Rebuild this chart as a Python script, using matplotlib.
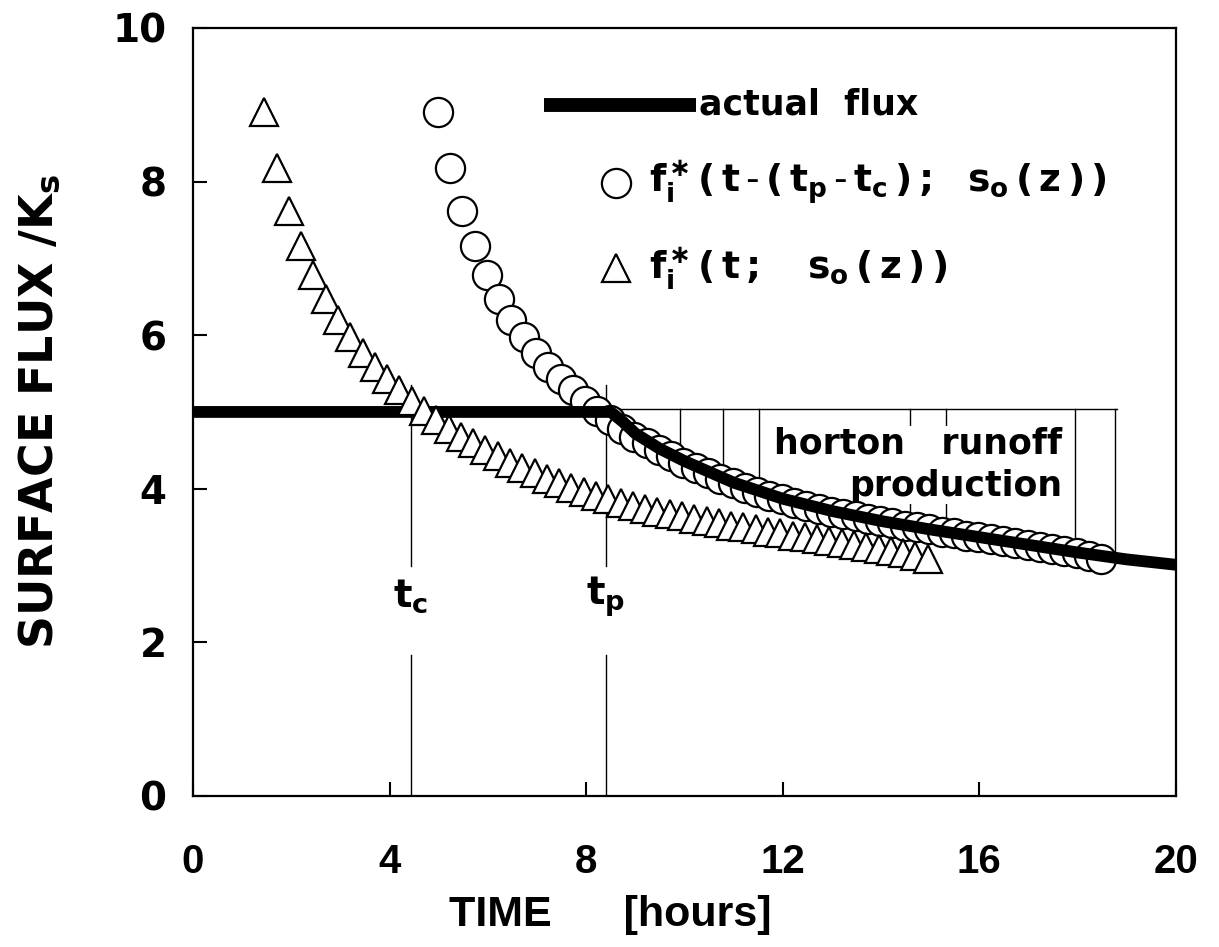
import numpy as np
import matplotlib
matplotlib.use("Agg")
import matplotlib.pyplot as plt

plt.rcParams['font.family'] = ['DejaVu Sans']
plt.rcParams['mathtext.fontset'] = 'custom'
plt.rcParams['mathtext.rm'] = 'DejaVu Sans:bold'
plt.rcParams['mathtext.it'] = 'DejaVu Sans:bold'
plt.rcParams['mathtext.bf'] = 'DejaVu Sans:bold'

NARROW = ['Liberation Sans', 'DejaVu Sans']

# ---- data ----
tri_time = [1.45, 1.70, 1.95, 2.20, 2.45, 2.70, 2.95, 3.20, 3.45, 3.70,
            3.95, 4.20, 4.45, 4.70, 4.95, 5.20, 5.45, 5.70, 5.95, 6.20,
            6.45, 6.70, 6.95, 7.20, 7.45, 7.70, 7.95, 8.20, 8.45, 8.70,
            8.95, 9.20, 9.45, 9.70, 9.95, 10.20, 10.45, 10.70, 10.95, 11.20,
            11.45, 11.70, 11.95, 12.20, 12.45, 12.70, 12.95, 13.20, 13.45, 13.70,
            13.95, 14.20, 14.45, 14.70, 14.95]
tri_flux = [8.90, 8.18, 7.62, 7.16, 6.78, 6.47, 6.20, 5.97, 5.77, 5.59,
            5.43, 5.28, 5.14, 5.01, 4.89, 4.78, 4.68, 4.59, 4.50, 4.42,
            4.34, 4.27, 4.20, 4.13, 4.07, 4.01, 3.96, 3.91, 3.86, 3.81,
            3.77, 3.73, 3.70, 3.67, 3.64, 3.61, 3.58, 3.55, 3.52, 3.50,
            3.47, 3.44, 3.42, 3.39, 3.37, 3.34, 3.32, 3.29, 3.27, 3.24,
            3.22, 3.19, 3.16, 3.13, 3.08]
time_shift = 3.53          # circles: same curve delayed by (t_p - t_c)

flux_time = [0.0, 8.5, 8.75, 9.0, 9.5, 10.0, 11.0, 12.0, 13.0, 14.0,
             15.0, 16.0, 17.0, 18.0, 19.0, 20.0]
flux_value = [5.0, 5.0, 4.87, 4.72, 4.52, 4.36, 4.08, 3.87, 3.71, 3.58,
              3.47, 3.37, 3.27, 3.17, 3.08, 3.01]

t_c = 4.43
t_p = 8.40
ponding_level = 5.04
ponding_end = 18.8
hatch_time = [9.91, 10.78, 11.51, 14.58, 15.33, 17.95, 18.76]

x_ticks = [0, 4, 8, 12, 16, 20]
y_ticks = [0, 2, 4, 6, 8, 10]

# ---- figure ----
fig = plt.figure(figsize=(12.19, 9.47), dpi=100)
ax = fig.add_axes([0.1583, 0.1595, 0.8064, 0.8110])
ax.set_xlim(0, 20)
ax.set_ylim(0, 10)

circ_time = [t + time_shift for t in tri_time]

# hatching of Horton runoff area
ax.plot([t_p, ponding_end], [ponding_level, ponding_level], color='k', lw=1.0, zorder=2)
for ht in hatch_time:
    bottom = np.interp(ht, flux_time, flux_value)
    ax.plot([ht, ht], [ponding_level, bottom], color='k', lw=1.0, zorder=2)

ax.text(17.68, 4.31, 'horton   runoff\nproduction', ha='right', va='center',
        multialignment='right', fontsize=25, fontweight='bold', linespacing=1.3,
        bbox=dict(facecolor='white', edgecolor='none', pad=0.5), zorder=2.5)

# t_c, t_p markers
for tv in (t_c, t_p):
    ax.plot([tv, tv], [5.35, 3.0], color='k', lw=1.0, zorder=2)
    ax.plot([tv, tv], [1.83, 0.0], color='k', lw=1.0, zorder=2)
ax.text(t_c, 2.6, r'$t_c$', ha='center', va='center', fontsize=28)
ax.text(t_p, 2.6, r'$t_p$', ha='center', va='center', fontsize=28)

# series
ax.plot(circ_time, tri_flux, linestyle='none', marker='o', ms=21,
        mfc='white', mec='k', mew=1.6, zorder=3)
ax.plot(flux_time, flux_value, color='k', lw=8.5, solid_joinstyle='round', zorder=4)
ax.plot(tri_time, tri_flux, linestyle='none', marker='^', ms=19.5,
        mfc='white', mec='k', mew=1.6, zorder=5)

# manual legend
ax.plot([7.15, 10.23], [9.0, 9.0], color='k', lw=10, solid_capstyle='butt')
ax.text(10.3, 9.0, 'actual  flux', ha='left', va='center', fontsize=25, fontweight='bold')
ax.plot([8.61], [7.98], linestyle='none', marker='o', ms=21, mfc='white', mec='k', mew=1.6)
ax.text(9.28, 7.98,
        r'$f_i^{\ast}\,(\,t\,$-$\,(\,t_p\,$-$\,t_c\,)\,;\ \ s_o\,(\,z\,)\,)$',
        ha='left', va='center', fontsize=27)
ax.plot([8.61], [6.87], linestyle='none', marker='^', ms=19.5, mfc='white', mec='k', mew=1.6)
ax.text(9.28, 6.87, r'$f_i^{\ast}\,(\,t\,;\ \ \ s_o\,(\,z\,)\,)$',
        ha='left', va='center', fontsize=27)

# axes styling
for sp in ax.spines.values():
    sp.set_linewidth(1.6)
ax.set_xticks(x_ticks)
ax.set_yticks(y_ticks)
ax.tick_params(direction='in', length=10, width=1.5, top=False, right=False)
ax.tick_params(axis='y', pad=19, labelsize=28)
ax.tick_params(axis='x', pad=34, labelsize=29)
for lab in ax.get_yticklabels():
    lab.set_fontweight('bold')
for lab in ax.get_xticklabels():
    lab.set_fontweight('bold')
    lab.set_family(NARROW)

ax.set_xlabel('TIME      [hours]', fontsize=31, fontweight='bold', family=NARROW, labelpad=10)
ax.xaxis.label.set_x(0.425)
ax.set_ylabel(r'SURFACE FLUX /K$_\mathbf{s}$', fontsize=33, fontweight='bold',
              labelpad=36)

fig.savefig('out.png', dpi=100)
